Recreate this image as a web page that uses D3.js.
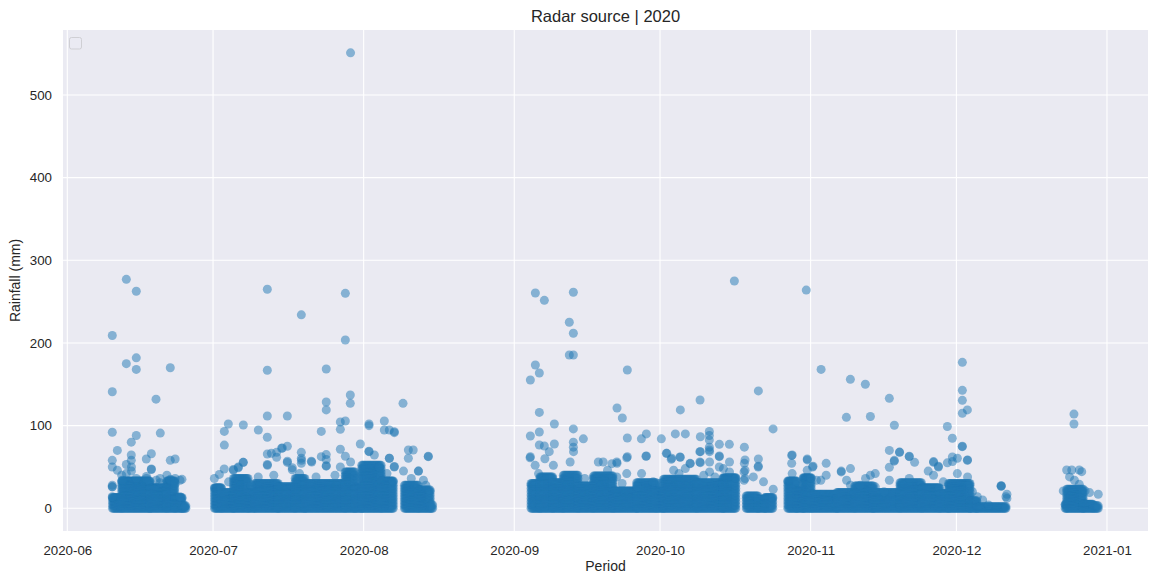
<!DOCTYPE html>
<meta charset="utf-8">
<style>

body {
	margin: 0;
	background: #fff;
	font-family: "Liberation Sans", Arial, sans-serif;
}

.tick text {
	fill: #262626;
	font-size: 13.3px;
}

.label {
	fill: #262626;
	font-size: 14px;
}

.title {
	fill: #262626;
	font-size: 16.5px;
}

</style>
<svg width="1157" height="584"></svg>
<script src="https://d3js.org/d3.v7.min.js"></script>
<script>

	// days are counted from 2020-06-01 00:00 (UTC)
	var origin = Date.UTC(2020, 5, 1);

	var yTicks = [0, 100, 200, 300, 400, 500];
	var xTicks = ["2020-06", "2020-07", "2020-08", "2020-09", "2020-10", "2020-11", "2020-12", "2021-01"];

	// dense part of the cloud: from day, to day, height (mm) where it stays solid
	var bandFrom = [
		9.3, 11.2, 17.0, 20.5, 22.2, 23.6,
		30.3, 31.8, 34.2, 37.3, 38.6, 43.4, 46.9, 48.9, 57.2, 59.2, 60.6, 64.7, 69.4, 72.3, 74.8,
		95.45, 97.3, 100.0, 102.1, 105.2, 108.3, 112.4, 117.2, 121.3, 122.7, 129.6, 135.0,
		139.75, 142.2, 143.6,
		148.3, 150.1, 151.5, 153.2, 158.4, 162.1, 165.9, 171.4, 175.9, 179.6, 181.4, 185.8, 187.2,
		205.4, 205.7, 209.1, 211.2
	];
	var bandTo = [
		11.2, 17.0, 20.5, 22.2, 23.6, 24.4,
		31.8, 34.2, 37.3, 38.6, 43.4, 46.9, 48.9, 57.2, 59.2, 60.6, 64.7, 67.25, 72.3, 74.8, 75.3,
		97.3, 100.0, 102.1, 105.2, 108.3, 112.4, 117.2, 121.3, 122.7, 129.6, 135.0, 137.6,
		142.2, 143.6, 145.3,
		150.1, 151.5, 153.2, 158.4, 162.1, 165.9, 171.4, 175.9, 179.6, 181.4, 185.8, 187.2, 193.3,
		205.7, 209.1, 211.2, 212.2
	];
	var bandTop = [
		13, 33, 25, 33, 13, 3,
		25, 19, 36, 19, 30, 26, 36, 30, 44, 25, 52, 33, 28, 22, 4,
		30, 38, 31, 40, 27, 39, 21, 31, 21, 35, 31, 37,
		15, 11, 13,
		33, 21, 37, 17, 19, 27, 19, 31, 25, 18, 30, 9, 2,
		5, 23, 5, 3
	];

	// single readings standing out of the cloud: [day, rainfall mm]
	var junePoints = [
		[12.15, 277], [14.2, 262.5], [9.26, 209], [12.15, 175], [14.2, 182], [14.2, 168], [21.2, 170],
		[9.26, 141], [18.26, 132], [9.26, 92], [14.2, 88], [19.14, 91], [13.17, 80], [10.3, 70],
		[13.17, 64.5], [17.3, 66], [9.26, 58], [16.26, 59.6], [21.2, 58], [22.2, 59.6], [12.15, 53],
		[13.17, 58], [9.26, 50], [10.3, 46], [17.3, 47.5], [9.26, 26], [9.26, 28], [11.2, 40],
		[13.2, 45], [19.1, 36], [16.3, 36], [21.2, 35], [23.6, 35], [22.2, 30], [20.5, 40]
	];
	var julyPoints = [
		[41.17, 265], [57.23, 260], [48.17, 234], [57.23, 203.6], [41.17, 167], [53.3, 168.5],
		[58.25, 137], [58.25, 127], [53.3, 128.6], [53.3, 119], [69.1, 127], [41.17, 111.6],
		[45.29, 111.6], [56.2, 104.4], [57.23, 105.6], [62.1, 102], [62.1, 100], [65.25, 105.6],
		[33.14, 102], [36.23, 100.8], [32.32, 93], [39.32, 94.7], [52.28, 93], [56.2, 95.5],
		[65.25, 94.7], [66.28, 94.7], [67.31, 92.7], [67.31, 91.5], [41.17, 86], [32.32, 76.5],
		[60.31, 77.8], [45.29, 75], [44.26, 73], [41.17, 65.7], [41.17, 53], [42.0, 66.5],
		[43.08, 67.7], [43.08, 61.7], [48.17, 67.7], [48.17, 60.5], [48.17, 54.4], [50.23, 57],
		[52.28, 62.5], [53.3, 65], [53.3, 59], [53.3, 51], [56.2, 71.4], [57.23, 63], [62.1, 68.5],
		[63.2, 64.5], [66.28, 60.5], [67.31, 50.5], [70.2, 70.5], [71.2, 70.5], [70.2, 60.5],
		[74.3, 63], [72.25, 45], [45.29, 55.5], [46.3, 46.5], [34.17, 47], [35.2, 50], [36.23, 55.6],
		[58.3, 551]
	];
	var septPoints = [
		[96.34, 260.5], [98.19, 251.6], [104.16, 261.3], [103.33, 225], [104.16, 211.7],
		[103.33, 185.5], [104.16, 185.5], [96.34, 173.4], [97.16, 163.7], [95.31, 155.2],
		[115.27, 167.3], [97.16, 116], [113.15, 121.3], [114.24, 109.2], [130.24, 131],
		[126.18, 119], [137.3, 275], [100.25, 102], [95.31, 87.5], [97.16, 92.3], [104.16, 96],
		[106.22, 84], [104.16, 80], [104.16, 74], [115.27, 85], [119.19, 90], [118.16, 84],
		[122.27, 84], [125.15, 90], [127.21, 90], [130.3, 86.6], [132.15, 93], [132.15, 88],
		[132.15, 82.5], [132.15, 74], [134.21, 77.4], [136.27, 77.4], [139.36, 74],
		[95.31, 62.4], [97.16, 76.6], [98.19, 75.4], [99.2, 68.5], [100.25, 77.8], [113.15, 54.4],
		[115.27, 62.4], [119.19, 63.3], [123.3, 66.5], [124.3, 59.3], [126.18, 61.7],
		[128.2, 54.4], [130.3, 68.5], [130.3, 55.2], [134.21, 63.3], [132.15, 70.5]
	];
	var autumnPoints = [
		[142.24, 142], [145.27, 96], [152.1, 264], [155.15, 168], [161.18, 156], [164.26, 150],
		[160.36, 110], [165.3, 111], [169.2, 133], [170.23, 100.4], [184.23, 176.6],
		[184.23, 142.7], [184.23, 130.6], [184.23, 115], [185.26, 119], [181.14, 99],
		[182.17, 84.7], [184.23, 75], [181.14, 55], [182.17, 62], [185.26, 58], [192.2, 26.6],
		[139.36, 54.4], [142.24, 59.6], [142.24, 51], [149.1, 64], [149.1, 54.4], [152.3, 59.6],
		[156.2, 54.4], [153.5, 51], [159.3, 45], [161.2, 48], [169.2, 70], [171.3, 67.7],
		[169.2, 49.6], [170.23, 58], [173.3, 63], [174.4, 55.6], [178.3, 55.6], [179.3, 50.8],
		[193.4, 17], [193.4, 12], [192.26, 27]
	];
	var decemberPoints = [
		[207.2, 114], [207.2, 102], [205.7, 46.3], [206.75, 46.3], [208.3, 46.3], [208.8, 44.3],
		[206.3, 38], [205.0, 21], [212.2, 17], [209.5, 21], [210.4, 19], [207.3, 34], [208.3, 29]
	];

	// readings just above the solid part, giving it its ragged top
	var fringePoints = [
		[9.26, 26], [9.26, 14], [11.3, 34], [12.15, 42], [13.2, 50], [14.2, 36], [16.3, 38.5],
		[17.3, 47], [18.3, 34], [19.1, 31], [21.2, 34], [22.2, 36], [23.2, 34], [23.2, 14], [24.2, 2],
		[30.27, 36], [31.3, 41], [32.3, 47.6], [34.2, 46], [35.2, 49], [36.2, 55.6], [39.3, 38],
		[41.2, 52], [44.1, 72.6], [45.3, 57], [46.3, 49], [48.2, 58], [50.3, 56], [53.3, 51.6],
		[56.2, 50], [58.3, 56], [62.1, 69], [64.2, 50], [66.3, 60.5], [67.3, 50], [69.2, 45],
		[72.3, 45], [73.3, 34], [74.3, 62.5], [33.2, 32], [37.8, 28], [42.5, 40], [47.8, 42],
		[51.2, 38], [55.1, 40], [59.8, 36], [65.8, 42], [70.8, 36], [73.8, 28],
		[95.25, 61], [96.3, 52], [98.3, 60], [97.0, 42], [100.05, 52], [103.5, 56], [104.2, 68.5],
		[109.3, 56], [110.3, 56], [112.1, 54], [113.1, 56], [113.1, 38], [115.15, 61], [115.15, 42],
		[117.3, 26], [118.2, 42], [119.1, 63], [120.6, 32], [123.4, 66.5], [124.4, 60.5],
		[124.8, 46], [126.1, 62], [127.2, 48], [128.2, 54], [130.2, 68.5], [130.2, 56], [132.2, 68.5],
		[132.2, 56], [132.2, 44], [133.3, 38], [134.2, 62.5], [134.2, 50], [136.3, 56], [136.3, 44],
		[135.05, 48], [139.5, 58.5], [139.5, 46], [139.5, 36], [106.5, 36], [111.2, 46], [114.2, 30],
		[121.9, 30], [125.9, 42], [131.0, 40],
		[139.3, 44], [139.3, 34], [141.2, 38], [142.2, 50], [143.3, 32], [145.3, 23], [149.2, 64.5],
		[149.2, 42], [152.3, 58.5], [152.3, 46], [153.4, 50], [154.2, 34], [155.1, 34],
		[156.2, 40], [159.3, 44], [160.4, 34], [161.2, 28], [163.2, 28], [164.3, 36], [165.3, 40],
		[166.3, 42], [166.3, 26], [168.1, 20], [169.2, 34], [170.2, 57], [171.3, 68], [173.3, 62.5],
		[173.3, 36], [177.2, 45], [178.3, 56.5], [178.3, 40], [179.3, 50], [180.3, 32], [182.2, 56.5],
		[183.2, 60.5], [184.2, 74.6], [185.3, 58.5], [183.2, 42], [185.3, 38], [186.3, 20],
		[187.3, 14], [188.4, 10], [189.6, 4], [192.2, 27.4], [193.2, 14]
	];

	var svg = d3.select("svg"),
		margin = {top: 30, right: 9, bottom: 53, left: 63},
		width = +svg.attr("width") - margin.left - margin.right,
		height = +svg.attr("height") - margin.top - margin.bottom;

	var day = 864e5;
	var toDate = function(d) { return new Date(origin + d * day); };

	var x = d3.scaleUtc()
		.domain([toDate(-0.885), new Date(Date.UTC(2021, 0, 1) + 8.44 * day)])
		.range([0, width]);

	var y = d3.scaleLinear()
		.domain([-27.46, 578.6])
		.range([height, 0]);

	var g = svg.append("g")
		.attr("transform", "translate(" + margin.left + "," + margin.top + ")");

	g.append("rect")
		.attr("width", width)
		.attr("height", height)
		.attr("fill", "#eaeaf2");

	var monthDates = xTicks.map(function(t) { return new Date(t + "-01T00:00:00Z"); });

	g.append("g")
		.selectAll("line")
		.data(monthDates)
		.enter().append("line")
		.attr("x1", function(d) { return x(d); })
		.attr("x2", function(d) { return x(d); })
		.attr("y1", 0)
		.attr("y2", height)
		.attr("stroke", "#fff")
		.attr("stroke-width", 1.1);

	g.append("g")
		.selectAll("line")
		.data(yTicks)
		.enter().append("line")
		.attr("x1", 0)
		.attr("x2", width)
		.attr("y1", function(d) { return y(d); })
		.attr("y2", function(d) { return y(d); })
		.attr("stroke", "#fff")
		.attr("stroke-width", 1.1);

	var xAxis = g.append("g")
		.attr("transform", "translate(0," + height + ")")
		.call(d3.axisBottom(x)
			.tickValues(monthDates)
			.tickFormat(d3.utcFormat("%Y-%m"))
			.tickSize(0)
			.tickPadding(10));

	var yAxis = g.append("g")
		.call(d3.axisLeft(y)
			.tickValues(yTicks)
			.tickSize(0)
			.tickPadding(11));

	[xAxis, yAxis].forEach(function(a) {
		a.select(".domain").remove();
		a.selectAll("text").attr("font-family", null).attr("font-size", null);
	});
	xAxis.selectAll("text").attr("dy", "1.05em");

	// build the solid part of the cloud from the band heights
	var cloud = [];
	bandFrom.forEach(function(d0, i) {
		for (var d = d0; d <= bandTo[i] + 1e-9; d += 0.2) {
			for (var v = 0; v < bandTop[i]; v += 4) cloud.push([d, v]);
			cloud.push([d, bandTop[i]]);
		}
	});

	var points = cloud.concat(fringePoints, junePoints, julyPoints, septPoints, autumnPoints, decemberPoints);

	g.append("g")
		.selectAll("circle")
		.data(points)
		.enter().append("circle")
		.attr("cx", function(d) { return x(toDate(d[0])); })
		.attr("cy", function(d) { return y(d[1]); })
		.attr("r", 4.5)
		.attr("fill", "#1f77b4")
		.attr("fill-opacity", 0.5);

	// empty legend frame, as drawn by the source plot
	g.append("rect")
		.attr("x", 6.5)
		.attr("y", 7.5)
		.attr("width", 12)
		.attr("height", 11.5)
		.attr("rx", 2)
		.attr("fill", "#eaeaf2")
		.attr("fill-opacity", 0.8)
		.attr("stroke", "#cfcfd4");

	svg.append("text")
		.attr("class", "title")
		.attr("x", margin.left + width / 2)
		.attr("y", 22)
		.attr("text-anchor", "middle")
		.text("Radar source | 2020");

	svg.append("text")
		.attr("class", "label")
		.attr("x", margin.left + width / 2)
		.attr("y", 571)
		.attr("text-anchor", "middle")
		.text("Period");

	svg.append("text")
		.attr("class", "label")
		.attr("transform", "translate(20," + (margin.top + height / 2) + ") rotate(-90)")
		.attr("text-anchor", "middle")
		.text("Rainfall (mm)");

</script>
